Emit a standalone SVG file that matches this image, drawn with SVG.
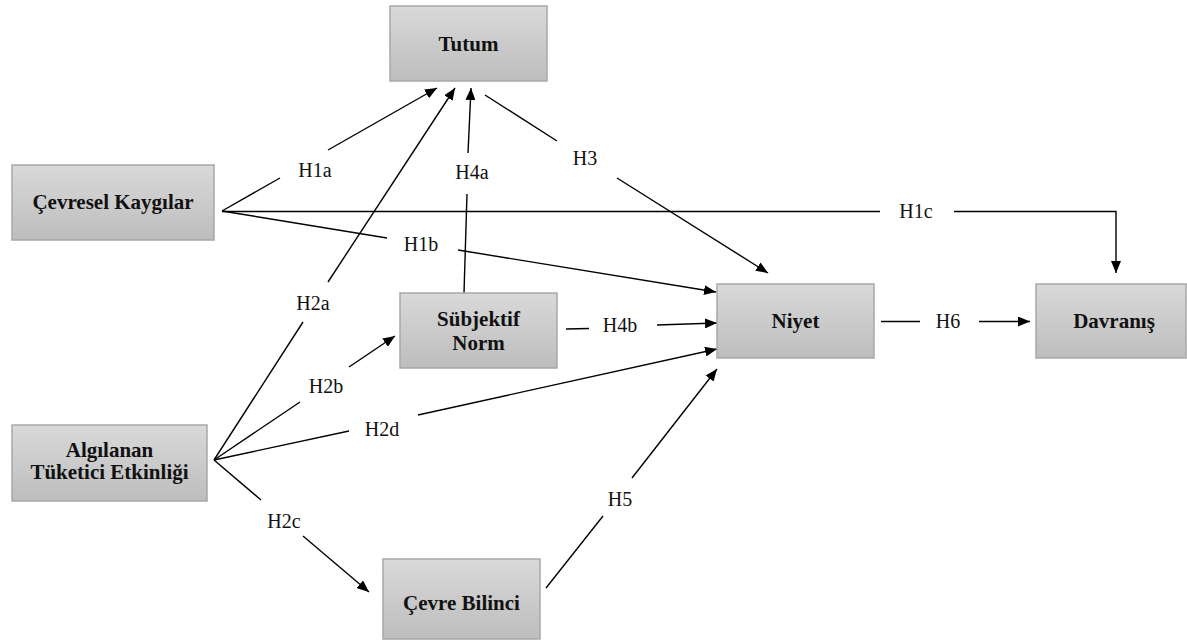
<svg xmlns="http://www.w3.org/2000/svg" width="1187" height="642" viewBox="0 0 1187 642">
<defs>
<linearGradient id="g" x1="0" y1="0" x2="0" y2="1">
<stop offset="0" stop-color="#d9d9d9"/>
<stop offset="1" stop-color="#bdbdbd"/>
</linearGradient>
<marker id="ah" markerUnits="userSpaceOnUse" markerWidth="12" markerHeight="10" refX="12" refY="5" orient="auto">
<path d="M0,0 L12,5 L0,10 z" fill="#000"/>
</marker>
</defs>
<style>
.box{fill:url(#g);stroke:#a8a8a8;stroke-width:1.5}
.nt{font-weight:bold;font-size:21px;fill:#111;text-anchor:middle}
.lb{font-size:20px;fill:#111;text-anchor:middle}
.ln{stroke:#000;stroke-width:1.4;fill:none}
.ar{marker-end:url(#ah)}
</style>
<rect width="1187" height="642" fill="#fff"/>
<g id="connectors">
<line class="ln" x1="222" y1="211" x2="280" y2="178"/>
<line class="ln ar" x1="328" y1="150" x2="437" y2="88"/>
<line class="ln" x1="214" y1="460" x2="303" y2="322"/>
<line class="ln ar" x1="328" y1="282" x2="455" y2="88"/>
<line class="ln" x1="464" y1="293" x2="467" y2="194"/>
<line class="ln ar" x1="468" y1="153" x2="471" y2="88"/>
<line class="ln" x1="485" y1="95" x2="557" y2="141"/>
<line class="ln ar" x1="617" y1="178" x2="768" y2="273"/>
<line class="ln" x1="222" y1="211" x2="387" y2="238"/>
<line class="ln ar" x1="458" y1="250" x2="716" y2="292"/>
<line class="ln" x1="222" y1="211.5" x2="880" y2="211.5"/>
<polyline class="ln ar" points="954,211.5 1116,211.5 1116,273"/>
<line class="ln" x1="214" y1="460" x2="300" y2="402"/>
<line class="ln ar" x1="349" y1="367" x2="395" y2="336"/>
<line class="ln" x1="214" y1="460" x2="349" y2="431"/>
<line class="ln ar" x1="418" y1="415" x2="717" y2="349"/>
<line class="ln" x1="214" y1="460" x2="261" y2="500"/>
<line class="ln ar" x1="303" y1="536" x2="369" y2="592"/>
<line class="ln" x1="546" y1="588" x2="603" y2="516"/>
<line class="ln ar" x1="632" y1="478" x2="717" y2="369"/>
<line class="ln" x1="566" y1="329" x2="589" y2="328.5"/>
<line class="ln ar" x1="657" y1="325" x2="717" y2="323"/>
<line class="ln" x1="881" y1="321.5" x2="920" y2="321.5"/>
<line class="ln ar" x1="979" y1="321.5" x2="1030" y2="321.5"/>
</g>
<g id="labels" font-family="'Liberation Serif', serif">
<text class="lb" x="315" y="177">H1a</text>
<text class="lb" x="313" y="310">H2a</text>
<text class="lb" x="472" y="179">H4a</text>
<text class="lb" x="585" y="165">H3</text>
<text class="lb" x="421" y="251">H1b</text>
<text class="lb" x="916" y="218">H1c</text>
<text class="lb" x="326" y="393">H2b</text>
<text class="lb" x="382" y="436">H2d</text>
<text class="lb" x="284" y="528">H2c</text>
<text class="lb" x="620" y="506">H5</text>
<text class="lb" x="620" y="332">H4b</text>
<text class="lb" x="948" y="328">H6</text>
</g>
<g id="nodes" font-family="'Liberation Serif', serif">
<g id="tutum">
<rect class="box" x="390" y="6" width="157" height="75"/>
<text class="nt" x="468.5" y="51">Tutum</text>
</g>
<g id="cevresel-kaygilar">
<rect class="box" x="12" y="165" width="202" height="75"/>
<text class="nt" x="113" y="209">Çevresel Kaygılar</text>
</g>
<g id="subjektif-norm">
<rect class="box" x="400" y="293" width="157" height="75"/>
<text class="nt" x="478.5" y="326">Sübjektif</text>
<text class="nt" x="478.5" y="350">Norm</text>
</g>
<g id="niyet">
<rect class="box" x="717" y="284" width="157" height="74"/>
<text class="nt" x="795.5" y="328">Niyet</text>
</g>
<g id="davranis">
<rect class="box" x="1036" y="284" width="150" height="74"/>
<text class="nt" x="1114" y="328">Davranış</text>
</g>
<g id="algilanan">
<rect class="box" x="12" y="425" width="195" height="76"/>
<text class="nt" x="109.5" y="457">Algılanan</text>
<text class="nt" x="109.5" y="479">Tüketici Etkinliği</text>
</g>
<g id="cevre-bilinci">
<rect class="box" x="383" y="559" width="157" height="80"/>
<text class="nt" x="461.5" y="610">Çevre Bilinci</text>
</g>
</g>
</svg>
